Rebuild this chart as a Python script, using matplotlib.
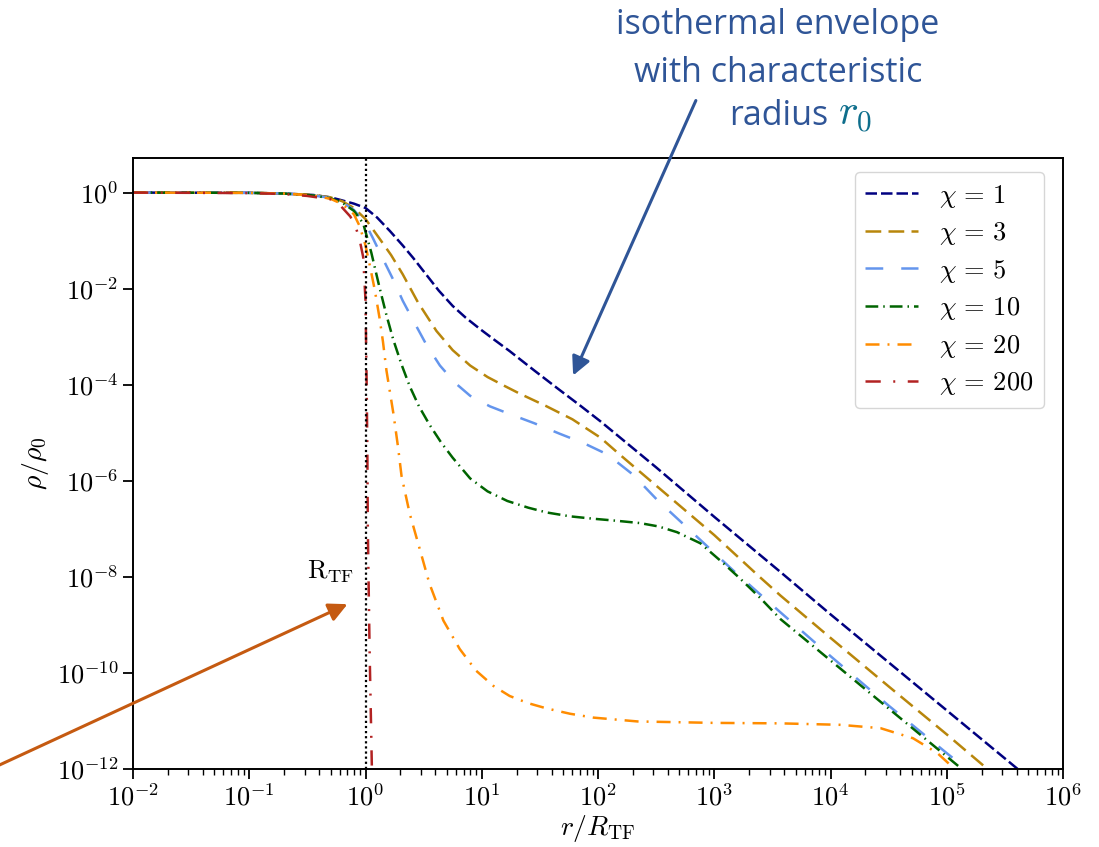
import matplotlib
matplotlib.use("Agg")
import matplotlib.pyplot as plt
from matplotlib.ticker import FixedLocator, LogLocator, FuncFormatter, NullLocator
from matplotlib.transforms import IdentityTransform
import numpy as np

plt.rcParams['mathtext.fontset'] = 'cm'
plt.rcParams['font.family'] = 'serif'

#### data: log10(r/R_TF), log10(rho/rho_0) ####
chi_labels = [r'$\chi\,=\,1$', r'$\chi\,=\,3$', r'$\chi\,=\,5$',
              r'$\chi\,=\,10$', r'$\chi\,=\,20$', r'$\chi\,=\,200$']

lx_chi1 = [-2, -1, -0.7, -0.45, -0.3, -0.22, -0.1, 0.0, 0.1, 0.21, 0.32, 0.41, 0.52, 0.63,
           0.75, 0.86, 0.985, 1.1, 1.24, 1.45, 1.67, 1.85, 2.02, 2.19, 2.5, 3.0, 3.57, 4.0,
           4.5, 5.0, 5.61, 5.7]
ly_chi1 = [0, -0.005, -0.02, -0.05, -0.1, -0.15, -0.23, -0.32, -0.52, -0.8, -1.1, -1.36, -1.7, -2.04,
           -2.36, -2.6, -2.84, -3.05, -3.3, -3.7, -4.11, -4.44, -4.76, -5.1, -5.72, -6.75, -7.9, -8.78,
           -9.78, -10.78, -12.0, -12.2]

lx_chi3 = [-2, -1, -0.7, -0.45, -0.3, -0.2, -0.1, 0.0, 0.13, 0.22, 0.32, 0.45, 0.61, 0.75, 0.9,
           1.05, 1.2, 1.33, 1.55, 1.78, 2.02, 2.19, 2.5, 3.0, 3.39, 3.57, 4.0, 4.5, 5.0, 5.35, 5.45]
ly_chi3 = [0, -0.005, -0.02, -0.05, -0.1, -0.18, -0.32, -0.55, -0.99, -1.3, -1.7, -2.28, -2.88, -3.28, -3.6,
           -3.84, -4.03, -4.19, -4.44, -4.72, -5.1, -5.46, -6.1, -7.13, -8.0, -8.39, -9.27, -10.28, -11.28,
           -12.0, -12.2]

lx_chi5 = [-2, -1, -0.7, -0.45, -0.3, -0.2, -0.1, 0.0, 0.06, 0.15, 0.24, 0.32, 0.41, 0.52, 0.64,
           0.77, 0.9, 1.07, 1.24, 1.45, 1.67, 1.88, 2.08, 2.3, 2.51, 2.8, 3.16, 3.57, 4.0, 4.5, 5.0,
           5.17, 5.27]
ly_chi5 = [0, -0.005, -0.02, -0.06, -0.11, -0.2, -0.36, -0.65, -0.93, -1.38, -1.82, -2.25, -2.66, -3.15,
           -3.6, -3.96, -4.23, -4.45, -4.61, -4.8, -5.02, -5.22, -5.45, -5.87, -6.4, -7.05, -7.86, -8.74,
           -9.65, -10.68, -11.67, -12.0, -12.2]

lx_chi10 = [-2, -1, -0.7, -0.45, -0.3, -0.2, -0.1, -0.02, 0.05, 0.12, 0.18, 0.24, 0.31, 0.38, 0.46,
            0.55, 0.65, 0.75, 0.9, 1.05, 1.22, 1.4, 1.56, 1.76, 1.96, 2.15, 2.36, 2.52, 2.68, 2.88,
            3.08, 3.22, 3.4, 3.57, 4.0, 4.5, 5.0, 5.11, 5.2]
ly_chi10 = [0, -0.005, -0.02, -0.06, -0.12, -0.21, -0.38, -0.64, -1.25, -1.97, -2.55, -3.07, -3.58, -4.03,
            -4.45, -4.83, -5.2, -5.52, -5.95, -6.22, -6.42, -6.56, -6.66, -6.74, -6.79, -6.83, -6.88, -6.95,
            -7.07, -7.3, -7.72, -8.03, -8.45, -8.88, -9.74, -10.74, -11.74, -11.96, -12.2]

lx_chi20 = [-2, -1, -0.7, -0.45, -0.3, -0.2, -0.1, -0.05, 0.0, 0.04, 0.08, 0.12, 0.15, 0.18, 0.24,
            0.28, 0.31, 0.38, 0.47, 0.55, 0.67, 0.81, 0.95, 1.1, 1.24, 1.4, 1.56, 1.76, 1.96, 2.34,
            3.0, 3.57, 4.08, 4.43, 4.71, 4.92, 5.05, 5.1]
ly_chi20 = [0, -0.005, -0.02, -0.06, -0.13, -0.24, -0.45, -0.7, -1.1, -1.55, -2.03, -2.6, -3.1, -3.7, -4.6,
            -5.3, -5.9, -6.68, -7.45, -8.14, -8.91, -9.5, -9.95, -10.27, -10.48, -10.63, -10.74, -10.85,
            -10.93, -11.01, -11.04, -11.05, -11.08, -11.15, -11.36, -11.67, -11.96, -12.2]

lx_chi200 = [-2, -1, -0.7, -0.5, -0.3, -0.22, -0.13, -0.08, -0.05, -0.02, 0.0, 0.01, 0.016, 0.02,
             0.035, 0.055, 0.06]
ly_chi200 = [0, -0.01, -0.03, -0.07, -0.14, -0.26, -0.5, -0.75, -0.99, -1.34, -2.24, -4.0, -5.4, -7.0,
             -9.5, -12.0, -12.3]

series_lx = [lx_chi1, lx_chi3, lx_chi5, lx_chi10, lx_chi20, lx_chi200]
series_ly = [ly_chi1, ly_chi3, ly_chi5, ly_chi10, ly_chi20, ly_chi200]

colors = ['navy', 'darkgoldenrod', 'cornflowerblue', 'darkgreen', 'darkorange', 'firebrick']
styles = [(0, (4.6, 1.6)), (0, (6.3, 2.9)), (0, (7.1, 7.2)),
          (0, (5.1, 2.0, 0.6, 2.0)), (0, (5.6, 3.2, 0.8, 3.2)), (0, (6.1, 5.0, 0.8, 5.0))]

W, H = 1099, 847
fig = plt.figure(figsize=(W / 100, H / 100), dpi=100)
ax = fig.add_axes([133 / W, 1 - 769 / H, (1063 - 133) / W, (769 - 158) / H])

for lx, ly, c, ls, lab in zip(series_lx, series_ly, colors, styles, chi_labels):
    ax.plot(10 ** np.array(lx), 10 ** np.array(ly), color=c, ls=ls, lw=1.8, label=lab)

ax.axvline(1, color='k', ls=(0, (1, 1.3)), lw=1.6)
ax.text(0.8, 10 ** -7.9, r'$\mathrm{R}_{\mathrm{TF}}$', ha='right', va='center', fontsize=19)

ax.set_xscale('log')
ax.set_yscale('log')
ax.set_xlim(1e-2, 1e6)
ax.set_ylim(1e-12, 10 ** 0.72)

ax.xaxis.set_major_locator(FixedLocator([10.0 ** k for k in range(-2, 7)]))
ax.xaxis.set_minor_locator(LogLocator(base=10, subs=np.arange(2, 10)))
ax.yaxis.set_major_locator(FixedLocator([10.0 ** k for k in range(-12, 1, 2)]))
ax.yaxis.set_minor_locator(NullLocator())
fmt = FuncFormatter(lambda v, p: r'$10^{%d}$' % int(round(np.log10(v))))
ax.xaxis.set_major_formatter(fmt)
ax.yaxis.set_major_formatter(fmt)
ax.xaxis.set_minor_formatter(FuncFormatter(lambda v, p: ''))
ax.tick_params(which='major', labelsize=19, length=7, width=1.3)
ax.tick_params(which='minor', length=4, width=1.0)
for s in ax.spines.values():
    s.set_linewidth(1.4)

ax.set_xlabel(r'$r/R_{\mathrm{TF}}$', fontsize=20, labelpad=2)
ax.set_ylabel(r'$\rho/\rho_0$', fontsize=20)

ax.legend(loc='upper right', bbox_to_anchor=(1044, H - 172), bbox_transform=IdentityTransform(),
          borderaxespad=0, fontsize=19, handlelength=2.0, labelspacing=0.4)

# annotations outside the plot
blue = '#2F5597'
fig.text(778, H - 34, 'isothermal envelope', transform=None, ha='center', va='baseline',
         fontsize=24.5, family='Open Sans', color=blue)
fig.text(778, H - 82, 'with characteristic', transform=None, ha='center', va='baseline',
         fontsize=24.5, family='Open Sans', color=blue)
fig.text(828, H - 125, 'radius', transform=None, ha='right', va='baseline',
         fontsize=24.5, family='Open Sans', color=blue)
fig.text(838, H - 125, r'$r_0$', transform=None, ha='left', va='baseline',
         fontsize=30, color='#0E6E8C')

ax.annotate('', xy=(572, H - 378), xytext=(697, H - 98), xycoords='figure pixels',
            textcoords='figure pixels',
            arrowprops=dict(arrowstyle='-|>', color=blue, lw=2.2, mutation_scale=28))
ax.annotate('', xy=(350, H - 603), xytext=(-20, H - 774), xycoords='figure pixels',
            textcoords='figure pixels',
            arrowprops=dict(arrowstyle='-|>', color='#C55A11', lw=2.2, mutation_scale=28))

fig.savefig('out.png', dpi=100)
